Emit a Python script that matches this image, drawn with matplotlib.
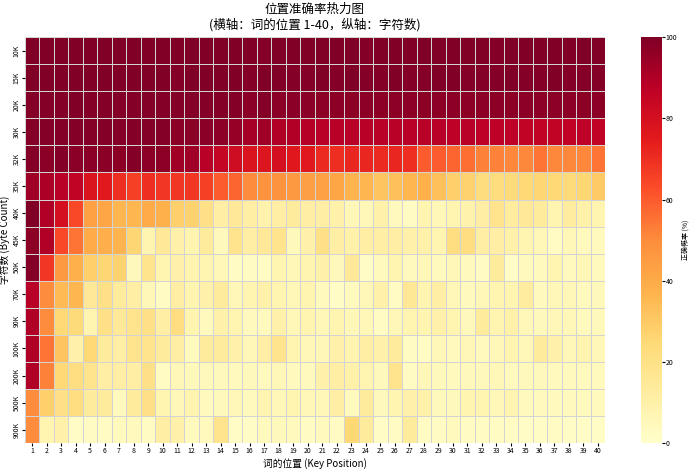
import matplotlib
matplotlib.use("Agg")
import matplotlib.pyplot as plt
import numpy as np
import seaborn as sns

plt.rcParams['font.family'] = ['Noto Sans CJK SC', 'DejaVu Sans']
plt.rcParams['axes.unicode_minus'] = False

positions = list(range(1, 41))
byte_counts = ['10K', '15K', '20K', '30K', '32K', '35K', '40K', '45K',
               '50K', '70K', '90K', '100K', '200K', '500K', '900K']

# 正确概率 (%), 每行一个字符数
acc_10k = [100, 100, 100, 100, 100, 100, 100, 100, 100, 100, 100, 100, 100, 100, 100, 100, 99, 100, 100, 100,
           100, 100, 100, 99, 100, 100, 100, 100, 100, 100, 100, 100, 99, 100, 100, 100, 100, 100, 100, 100]
acc_15k = [100, 100, 100, 100, 100, 100, 100, 100, 100, 100, 99, 100, 100, 100, 100, 99, 100, 100, 99, 99,
           100, 99, 100, 99, 99, 100, 99, 99, 100, 100, 99, 99, 99, 100, 99, 99, 100, 99, 99, 99]
acc_20k = [99, 99, 99, 100, 99, 99, 99, 99, 99, 99, 99, 99, 99, 99, 99, 98, 99, 98, 98, 98,
           97, 97, 97, 97, 97, 97, 97, 97, 97, 97, 97, 97, 97, 97, 97, 97, 97, 97, 97, 97]
acc_30k = [99, 99, 99, 99, 99, 99, 99, 99, 99, 99, 98, 98, 98, 97, 95, 92, 93, 90, 90, 89,
           88, 88, 88, 88, 88, 88, 88, 88, 88, 87, 88, 87, 87, 87, 86, 86, 86, 86, 87, 86]
acc_32k = [99, 98, 99, 98, 98, 98, 97, 99, 97, 97, 93, 93, 88, 85, 82, 78, 77, 80, 76, 75,
           71, 70, 72, 72, 71, 72, 70, 60, 60, 58, 56, 52, 52, 51, 51, 55, 51, 51, 51, 55]
acc_35k = [93, 91, 88, 86, 78, 75, 70, 66, 70, 68, 68, 68, 66, 60, 58, 50, 48, 48, 46, 44,
           43, 42, 37, 36, 32, 33, 36, 38, 33, 28, 27, 23, 23, 24, 25, 26, 25, 24, 26, 30]
acc_40k = [100, 90, 80, 64, 43, 42, 36, 36, 40, 38, 28, 27, 20, 12, 15, 12, 9, 12, 14, 12,
           12, 10, 6, 6, 10, 4, 3, 8, 6, 8, 9, 12, 18, 13, 15, 14, 8, 13, 10, 8]
acc_45k = [97, 90, 64, 55, 40, 39, 37, 26, 8, 15, 10, 8, 14, 5, 18, 12, 15, 18, 5, 10,
           20, 12, 10, 12, 12, 12, 10, 10, 8, 22, 22, 12, 12, 10, 8, 6, 3, 6, 4, 4]
acc_50k = [99, 68, 46, 38, 28, 26, 27, 5, 18, 8, 10, 8, 8, 6, 3, 3, 3, 8, 6, 8,
           10, 5, 15, 2, 4, 8, 4, 6, 4, 6, 4, 3, 14, 2, 4, 4, 8, 4, 6, 4]
acc_70k = [88, 50, 35, 36, 15, 20, 14, 12, 6, 3, 12, 8, 10, 14, 6, 8, 10, 8, 6, 8,
           4, 2, 4, 6, 10, 3, 16, 8, 12, 6, 4, 6, 8, 8, 13, 4, 6, 6, 4, 5]
acc_90k = [90, 50, 25, 24, 8, 20, 15, 18, 20, 12, 22, 8, 4, 10, 8, 4, 4, 10, 6, 8,
           6, 8, 6, 6, 3, 6, 8, 8, 10, 8, 5, 14, 8, 10, 6, 5, 6, 6, 4, 5]
acc_100k = [90, 55, 32, 10, 25, 14, 12, 18, 18, 14, 12, 4, 14, 14, 10, 6, 12, 18, 8, 6,
            6, 10, 8, 12, 10, 14, 3, 3, 6, 4, 6, 4, 6, 8, 6, 14, 10, 6, 8, 6]
acc_200k = [90, 52, 25, 22, 18, 12, 12, 12, 20, 3, 6, 5, 5, 5, 4, 5, 4, 6, 4, 4,
            10, 12, 10, 8, 5, 18, 3, 6, 5, 4, 5, 5, 6, 4, 5, 5, 4, 4, 4, 4]
acc_500k = [50, 28, 20, 22, 14, 14, 4, 14, 20, 8, 6, 8, 4, 5, 6, 4, 8, 6, 8, 6,
            6, 12, 4, 14, 5, 8, 10, 10, 5, 5, 8, 8, 6, 8, 4, 4, 4, 4, 4, 4]
acc_900k = [50, 8, 10, 2, 3, 3, 4, 4, 3, 12, 10, 4, 4, 18, 2, 2, 4, 5, 4, 3,
            4, 3, 25, 14, 2, 3, 14, 3, 3, 4, 3, 3, 3, 3, 2, 2, 3, 2, 2, 2]

data = np.array([acc_10k, acc_15k, acc_20k, acc_30k, acc_32k, acc_35k, acc_40k, acc_45k,
                 acc_50k, acc_70k, acc_90k, acc_100k, acc_200k, acc_500k, acc_900k])

fig = plt.figure(figsize=(6.9, 4.7), dpi=100)
ax = fig.add_axes([0.036, 0.057, 0.841, 0.864])
cax = fig.add_axes([0.929, 0.057, 0.030, 0.864])

sns.heatmap(data, ax=ax, cbar_ax=cax, cmap='YlOrRd', vmin=0, vmax=100,
            linewidths=0.5, linecolor='#d3d3d3',
            xticklabels=positions, yticklabels=byte_counts)

ax.set_title('位置准确率热力图\n(横轴：词的位置 1-40，纵轴：字符数)', fontsize=9, pad=6)
ax.set_xlabel('词的位置 (Key Position)', fontsize=7, labelpad=2)
ax.set_ylabel('字符数 (Byte Count)', fontsize=7, labelpad=2)
ax.tick_params(axis='x', labelsize=5, rotation=0, length=2, pad=1)
ax.tick_params(axis='y', labelsize=5, rotation=90, length=2, pad=1)
for lbl in ax.get_yticklabels():
    lbl.set_va('center')

cax.tick_params(labelsize=5, length=2, pad=1)
cax.set_ylabel('正确概率 (%)', fontsize=5, labelpad=3)

fig.savefig('out.png', dpi=100)
